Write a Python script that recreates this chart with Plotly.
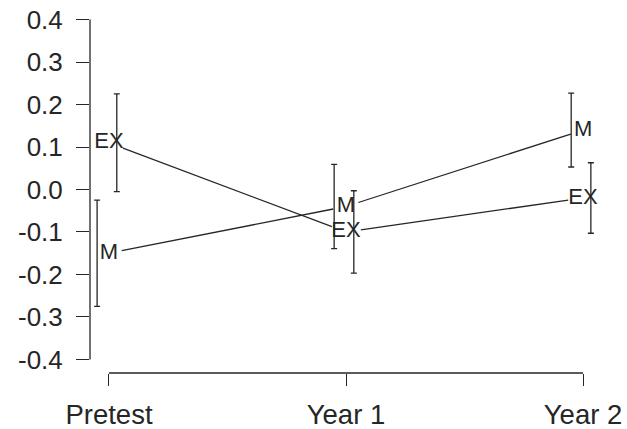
import math
import plotly.graph_objects as go

# Group means with error half-widths at each measurement occasion
stages = ["Pretest", "Year 1", "Year 2"]
ex_mean = [0.11, -0.10, -0.02]
ex_err = [0.115, 0.097, 0.083]
m_mean = [-0.15, -0.04, 0.14]
m_err = [0.125, 0.099, 0.087]

y_ticks = [-0.4, -0.3, -0.2, -0.1, 0.0, 0.1, 0.2, 0.3, 0.4]
y_tick_labels = ["-0.4", "-0.3", "-0.2", "-0.1", "0.0", "0.1", "0.2", "0.3", "0.4"]

# Figure geometry
W, H = 627, 429
ML, MR, MT, MB = 90, 25, 6, 56
XR = [0.92, 3.08]
YR = [-0.432, 0.432]
INK = "#262626"
FONT = "Liberation Sans, Arial, sans-serif"

xpos = list(range(1, len(stages) + 1))
ex_dodge = 0.033   # error bars nudged sideways so they don't overlap
m_dodge = -0.05


def gapped(xs, ys, gap_px):
    """Connect points with segments that stop short of each label (type='b' look)."""
    px_x = (W - ML - MR) / (XR[1] - XR[0])
    px_y = (H - MT - MB) / (YR[1] - YR[0])
    ox, oy = [], []
    for i in range(len(xs) - 1):
        dx = (xs[i + 1] - xs[i]) * px_x
        dy = (ys[i + 1] - ys[i]) * px_y
        f = gap_px / math.hypot(dx, dy)
        ox += [xs[i] + (xs[i + 1] - xs[i]) * f, xs[i + 1] - (xs[i + 1] - xs[i]) * f, None]
        oy += [ys[i] + (ys[i + 1] - ys[i]) * f, ys[i + 1] - (ys[i + 1] - ys[i]) * f, None]
    return ox, oy


fig = go.Figure()

for mean, err, dodge, label, gap in [
    (ex_mean, ex_err, ex_dodge, "EX", 15),
    (m_mean, m_err, m_dodge, "M", 13),
]:
    lx, ly = gapped(xpos, mean, gap)
    fig.add_trace(go.Scatter(
        x=lx, y=ly, mode="lines",
        line=dict(color=INK, width=1.3), showlegend=False, hoverinfo="skip",
    ))
    fig.add_trace(go.Scatter(
        x=[x + dodge for x in xpos], y=mean, mode="markers",
        marker=dict(size=1, opacity=0),
        error_y=dict(type="data", array=err, visible=True,
                     color=INK, thickness=1.3, width=3),
        showlegend=False, hoverinfo="skip",
    ))
    fig.add_trace(go.Scatter(
        x=xpos, y=mean, mode="text", text=[label] * len(xpos),
        textposition="middle center",
        textfont=dict(family=FONT, size=22, color=INK),
        showlegend=False, hoverinfo="skip",
    ))

# R-style axis lines spanning only the tick range
fig.add_shape(type="line", xref="paper", yref="y", x0=0, x1=0,
              y0=min(y_ticks), y1=max(y_ticks), line=dict(color=INK, width=1.3))
fig.add_shape(type="line", xref="x", yref="paper", x0=xpos[0], x1=xpos[-1],
              y0=0, y1=0, line=dict(color=INK, width=1.3))

fig.update_layout(
    width=W, height=H,
    margin=dict(l=ML, r=MR, t=MT, b=MB, pad=0, autoexpand=False),
    paper_bgcolor="white", plot_bgcolor="white",
    font=dict(family=FONT, color=INK),
    xaxis=dict(
        range=XR, tickvals=xpos, ticktext=stages, automargin=False,
        ticks="outside", ticklen=12, tickwidth=1.3, tickcolor=INK,
        showline=False, showgrid=False, zeroline=False,
        tickfont=dict(size=27.5, color=INK), ticklabelstandoff=5,
    ),
    yaxis=dict(
        range=YR, tickvals=y_ticks, ticktext=y_tick_labels, automargin=False,
        ticks="outside", ticklen=13, tickwidth=1.3, tickcolor=INK,
        showline=False, showgrid=False, zeroline=False,
        tickfont=dict(size=26, color=INK), ticklabelstandoff=8,
    ),
)

fig.write_html("out.html")
